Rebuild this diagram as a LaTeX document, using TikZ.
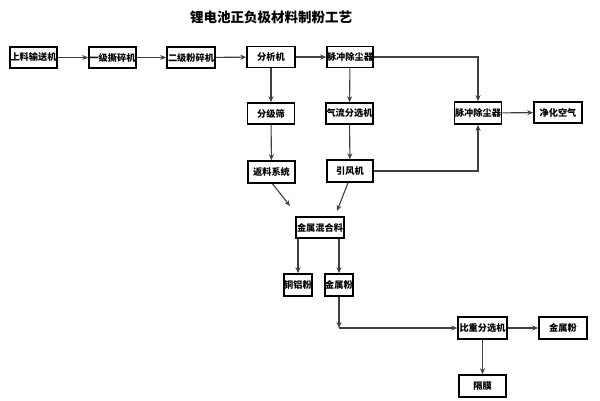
\documentclass[tikz,border=0pt]{standalone}
\usepackage{fontspec}
\setmainfont{Noto Sans CJK SC}
\usetikzlibrary{arrows.meta}
\begin{document}
\begin{tikzpicture}[x=1pt,y=-1pt,
  box/.style={draw=black,line width=1.6pt,minimum height=21pt,inner sep=0pt,
    font=\bfseries\fontsize{9.2}{10}\selectfont,text=black},
  arr/.style={draw=black!75,line width=1.1pt,-{Stealth[length=6pt,width=5pt]}},
  ln/.style={draw=black!75,line width=1.1pt}]
\useasboundingbox[fill=white] (0,0) rectangle (600,400);
\node[font=\bfseries\fontsize{13.5}{14}\selectfont] (title) at (271,17) {锂电池正负极材料制粉工艺};
\node[box,minimum width=47pt] (a) at (33.5,57.5) {上料输送机};
\node[box,minimum width=47pt] (b) at (112.5,57.5) {一级撕碎机};
\node[box,minimum width=48pt] (c) at (191,57.5) {二级粉碎机};
\node[box,minimum width=48pt] (d) at (271,57) {分析机};
\node[box,minimum width=46pt] (e) at (350,57) {脉冲除尘器};
\node[box,minimum width=47pt] (f) at (271,113.5) {分级筛};
\node[box,minimum width=47pt] (g) at (349.5,113.5) {气流分选机};
\node[box,minimum width=47pt,minimum height=22pt] (h) at (478,113) {脉冲除尘器};
\node[box,minimum width=48pt] (i) at (558,112.5) {净化空气};
\node[box,minimum width=47pt,minimum height=22pt] (j) at (271.5,172) {返料系统};
\node[box,minimum width=46pt,minimum height=22pt] (k) at (350,171) {引风机};
\node[box,minimum width=48pt] (l) at (320,227.5) {金属混合料};
\node[box,minimum width=26pt,minimum height=22pt] (m) at (298,285) {铜铝粉};
\node[box,minimum width=26pt,minimum height=22pt] (n) at (339,285) {金属粉};
\node[box,minimum width=49pt,minimum height=22pt] (o) at (482.5,328) {比重分选机};
\node[box,minimum width=48pt,minimum height=22pt] (p) at (563,328) {金属粉};
\node[box,minimum width=47pt,minimum height=22pt] (q) at (482.5,386) {隔膜};
\coordinate (jl) at (290,206);
\coordinate (kl) at (337,211);
\coordinate (cor) at (339,328);
\draw[arr] (a) -- (b);
\draw[arr] (b) -- (c);
\draw[arr] (c) -- (d);
\draw[arr] (d) -- (e);
\draw[arr] (d) -- (f);
\draw[arr] (f) -- (j);
\draw[arr] (e) -- (g);
\draw[arr] (g) -- (k);
\draw[arr] (e.east) -| (h.north);
\draw[arr] (k.east) -| (h.south);
\draw[arr] (h) -- (i);
\draw[arr] ([xshift=1pt]j.south) -- (jl);
\draw[arr] ([xshift=-2pt]k.south) -- (kl);
\draw[arr] (l.south -| m.north) -- (m.north);
\draw[arr] (l.south -| n.north) -- (n.north);
\draw[arr] (n.south) -- (cor);
\draw[arr] (cor) -- (o.west);
\draw[arr] (o) -- (p);
\draw[arr] (o) -- (q);
\end{tikzpicture}
\end{document}
